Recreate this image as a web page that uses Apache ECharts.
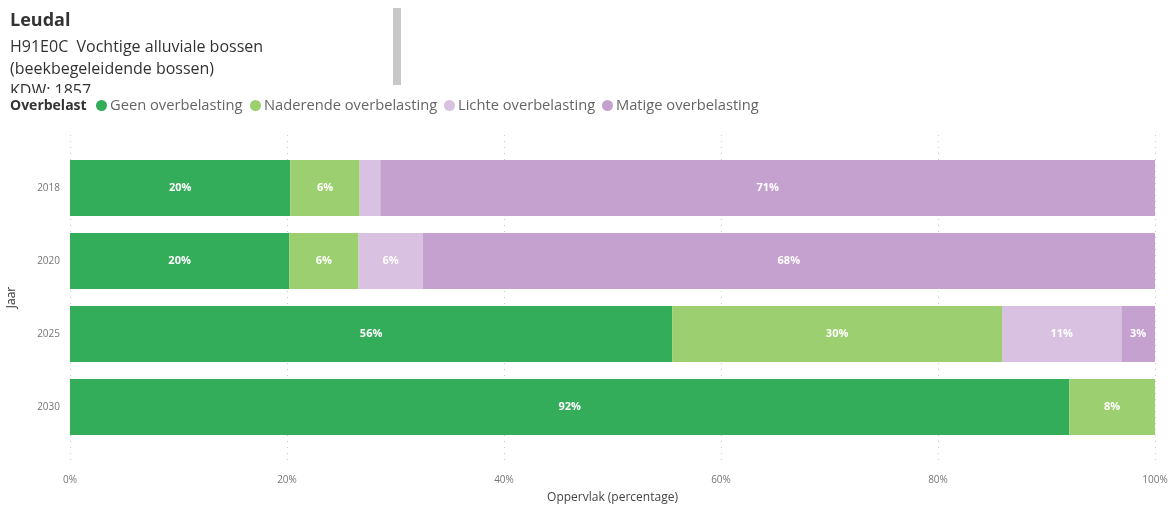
<!DOCTYPE html>
<html>
<head>
<meta charset="utf-8">
<script src="https://cdn.jsdelivr.net/npm/echarts@6/dist/echarts.min.js"></script>
<style>
html,body{margin:0;padding:0;background:#fff;}
#c{width:1175px;height:508px;}
</style>
</head>
<body>
<div id="c"></div>
<script>
const years = ['2018', '2020', '2025', '2030'];
const seriesNames = ['Geen overbelasting', 'Naderende overbelasting', 'Lichte overbelasting', 'Matige overbelasting'];
const geen = [20.3, 20.2, 55.5, 92.1];
const naderend = [6.4, 6.4, 30.4, 7.9];
const lichte = [1.9, 5.9, 11.0, 0];
const matige = [71.4, 67.5, 3.1, 0];
const xTicks = ['0%', '20%', '40%', '60%', '80%', '100%'];
const colors = ['#34AD5B', '#9BCF6F', '#D9C2E1', '#C5A1CF'];

const FONT = "'Segoe UI', 'Open Sans', 'Noto Sans', sans-serif";
const chart = echarts.init(document.getElementById('c'));
const values = [geen, naderend, lichte, matige];

const series = values.map((arr, i) => ({
  name: seriesNames[i],
  type: 'bar',
  stack: 'total',
  xAxisIndex: 0,
  yAxisIndex: 0,
  barCategoryGap: '23%',
  data: arr,
  itemStyle: { color: colors[i] },
  label: {
    show: true,
    position: 'inside',
    color: '#fff',
    fontFamily: FONT,
    fontSize: 11,
    fontWeight: 'bold',
    formatter: p => (p.value >= 2.5 ? Math.round(p.value) + '%' : '')
  },
  emphasis: { disabled: true }
}));

const legendLefts = [96, 250, 444, 602];
const legends = seriesNames.map((n, i) => ({
  left: legendLefts[i],
  top: 98,
  icon: 'circle',
  itemWidth: 11,
  itemHeight: 11,
  itemGap: 0,
  padding: 0,
  textStyle: { color: '#666', fontSize: 14.7, fontFamily: FONT, padding: [0, 0, 0, -2] },
  data: [n]
}));

chart.setOption({
  animation: false,
  textStyle: { fontFamily: FONT },
  legend: legends,
  graphic: [
    { type: 'text', left: 10, top: 12, style: { text: 'Leudal', fontSize: 18, fontWeight: 'bold', fill: '#333', fontFamily: FONT } },
    { type: 'text', left: 10, top: 39, style: { text: 'H91E0C  Vochtige alluviale bossen', fontSize: 16, fill: '#333', fontFamily: FONT } },
    { type: 'text', left: 10, top: 61, style: { text: '(beekbegeleidende bossen)', fontSize: 16, fill: '#333', fontFamily: FONT } },
    { type: 'text', left: 10, top: 83, style: { text: 'KDW: 1857', fontSize: 16, fill: '#333', fontFamily: FONT } },
    { type: 'rect', left: 0, top: 93, z: 50, shape: { width: 380, height: 6 }, style: { fill: '#fff' } },
    { type: 'rect', left: 393, top: 8, shape: { width: 8, height: 77 }, style: { fill: '#c8c8c8' } },
    { type: 'text', left: 10, top: 99, z: 60, style: { text: 'Overbelast', fontSize: 14, fontWeight: 'bold', fill: '#333', fontFamily: FONT } }
  ],
  grid: [
    { left: 70, right: 20, top: 151.5, bottom: 64.5, outerBoundsMode: 'none', containLabel: false },
    { left: 70, right: 20, top: 135, bottom: 43, outerBoundsMode: 'none', containLabel: false }
  ],
  xAxis: [
    {
      type: 'value', gridIndex: 0, min: 0, max: 100, interval: 20,
      axisLine: { show: false }, axisTick: { show: false }, splitLine: { show: false },
      axisLabel: { color: '#777', fontSize: 10, margin: 32, formatter: v => xTicks[v / 20] },
      name: 'Oppervlak (percentage)', nameLocation: 'middle', nameGap: 48,
      nameTextStyle: { color: '#444', fontSize: 12, fontFamily: FONT }
    },
    {
      type: 'value', gridIndex: 1, min: 0, max: 100, interval: 20,
      axisLine: { show: false }, axisTick: { show: false }, axisLabel: { show: false },
      splitLine: { show: true, lineStyle: { color: '#ccc', type: [1, 5], width: 1 } }
    }
  ],
  yAxis: [
    {
      type: 'category', gridIndex: 0, data: years, inverse: true,
      axisLine: { show: false }, axisTick: { show: false },
      axisLabel: { color: '#777', fontSize: 10, margin: 10 },
      name: 'Jaar', nameLocation: 'middle', nameGap: 52, nameRotate: 90,
      nameTextStyle: { color: '#333', fontSize: 12, fontFamily: FONT }
    },
    { type: 'value', gridIndex: 1, show: false, min: 0, max: 1 }
  ],
  series: series
});
</script>
</body>
</html>
